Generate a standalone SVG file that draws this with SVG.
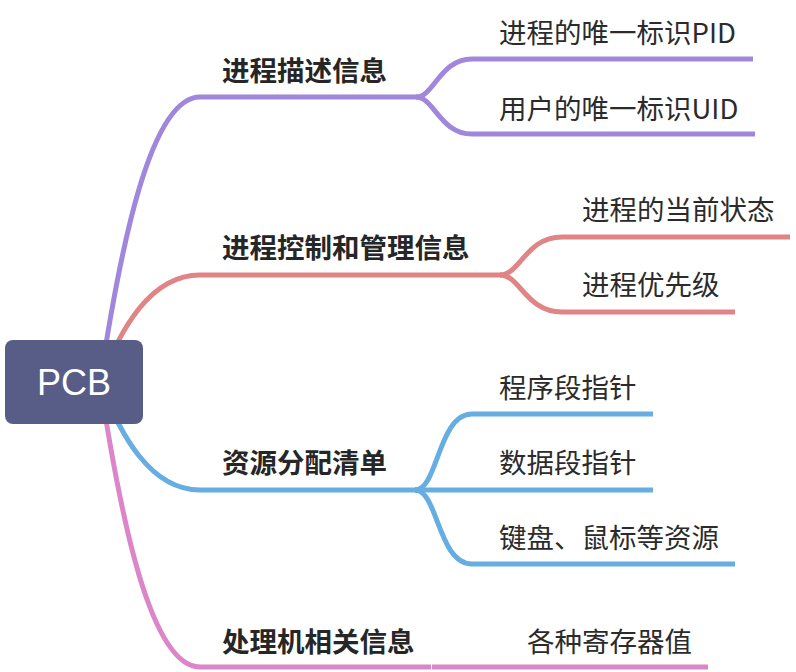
<svg xmlns="http://www.w3.org/2000/svg" width="796" height="672" viewBox="0 0 796 672">
<style>
  .c { fill: none; stroke-width: 5; stroke-linecap: butt; stroke-linejoin: round; }
  .p { stroke: #a087dc; }
  .r { stroke: #e08486; }
  .b { stroke: #66aee2; }
  .k { stroke: #dc85c8; }
  .main { font-family: "Noto Sans CJK SC", "Noto Sans", sans-serif; font-size: 27.5px; font-weight: bold; fill: #262626; }
  .sub { font-family: "Noto Sans CJK SC", "Noto Sans", sans-serif; font-size: 27.5px; fill: #2b2b2b; }
  .root { font-family: "Liberation Sans", Arial, sans-serif; font-size: 36px; fill: #ffffff; }
</style>
<rect width="796" height="672" fill="#ffffff"/>
<g id="connectors">
  <!-- root to mains -->
  <path class="c p" d="M 100 382 C 120 250, 150 97, 200 97 L 418 97"/>
  <path class="c r" d="M 100 382 C 120 330, 150 275, 200 275 L 502 275"/>
  <path class="c b" d="M 100 382 C 120 434, 150 490, 200 490 L 417 490"/>
  <path class="c k" d="M 100 382 C 120 514, 150 667, 200 667 L 431 667"/>
  <!-- purple children -->
  <path class="c p" d="M 416 97 C 434 97, 440 59, 472 59 L 753 59"/>
  <path class="c p" d="M 416 97 C 434 97, 440 134, 472 134 L 755 134"/>
  <!-- red children -->
  <path class="c r" d="M 500 275 C 520 275, 526 237, 562 237 L 790 237"/>
  <path class="c r" d="M 500 275 C 520 275, 526 312, 562 312 L 735 312"/>
  <!-- blue children -->
  <path class="c b" d="M 415 490 C 438 490, 438 414, 472 414 L 653 414"/>
  <path class="c b" d="M 415 490 L 653 490"/>
  <path class="c b" d="M 415 490 C 438 490, 438 564, 472 564 L 735 564"/>
  <!-- pink child -->
  <path class="c k" d="M 432 667 L 708 667"/>
</g>
<g id="root">
  <rect x="5" y="340" width="138" height="84" rx="8" ry="8" fill="#585d88"/>
  <text class="root" x="74" y="395" text-anchor="middle">PCB</text>
</g>
<g id="main-1"><text class="main" x="222" y="81">进程描述信息</text></g>
<g id="main-2"><text class="main" x="222" y="258">进程控制和管理信息</text></g>
<g id="main-3"><text class="main" x="222" y="473">资源分配清单</text></g>
<g id="main-4"><text class="main" x="222" y="652">处理机相关信息</text></g>
<g id="child-1-1"><text class="sub" x="499" y="43">进程的唯一标识PID</text></g>
<g id="child-1-2"><text class="sub" x="499" y="119">用户的唯一标识UID</text></g>
<g id="child-2-1"><text class="sub" x="582" y="220">进程的当前状态</text></g>
<g id="child-2-2"><text class="sub" x="582" y="295">进程优先级</text></g>
<g id="child-3-1"><text class="sub" x="499" y="398">程序段指针</text></g>
<g id="child-3-2"><text class="sub" x="499" y="473">数据段指针</text></g>
<g id="child-3-3"><text class="sub" x="499" y="548">键盘、鼠标等资源</text></g>
<g id="child-4-1"><text class="sub" x="527" y="652">各种寄存器值</text></g>
</svg>
